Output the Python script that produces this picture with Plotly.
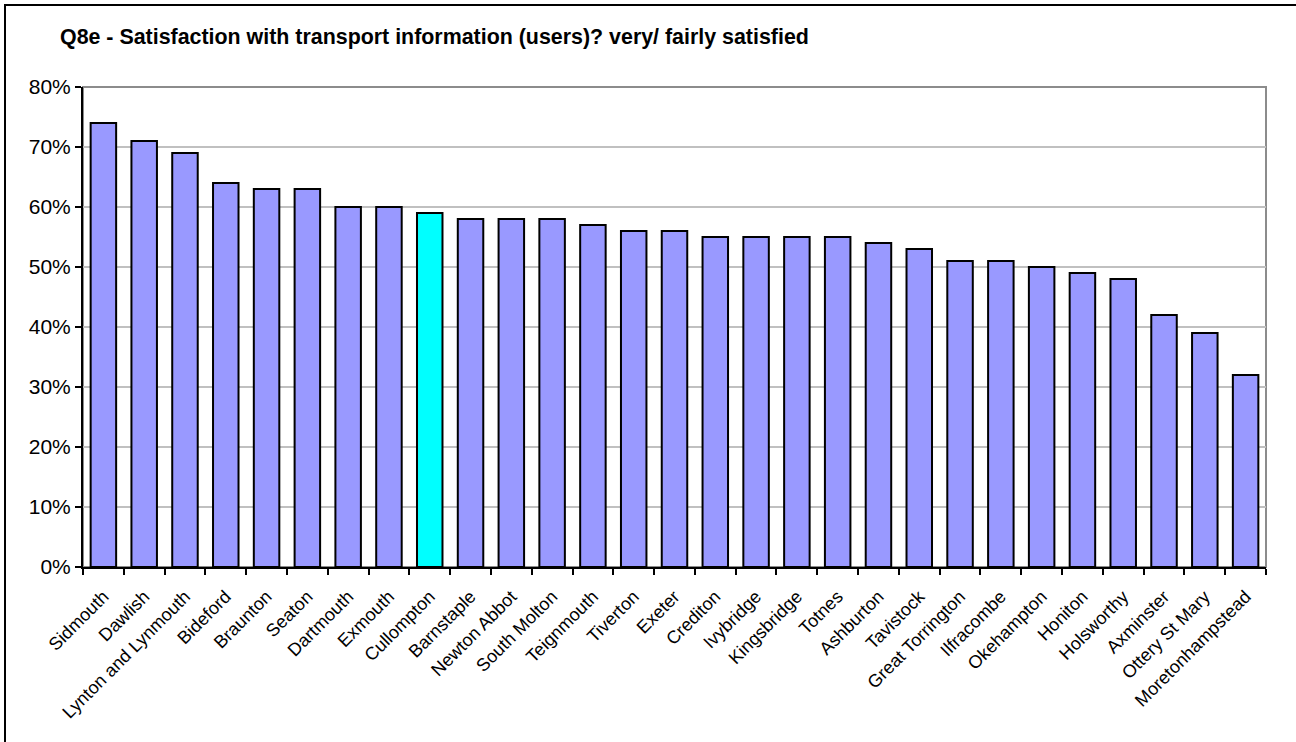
import plotly.graph_objects as go

towns = [
    "Sidmouth", "Dawlish", "Lynton and Lynmouth", "Bideford", "Braunton",
    "Seaton", "Dartmouth", "Exmouth", "Cullompton", "Barnstaple",
    "Newton Abbot", "South Molton", "Teignmouth", "Tiverton", "Exeter",
    "Crediton", "Ivybridge", "Kingsbridge", "Totnes", "Ashburton",
    "Tavistock", "Great Torrington", "Ilfracombe", "Okehampton", "Honiton",
    "Holsworthy", "Axminster", "Ottery St Mary", "Moretonhampstead",
]
satisfied = [
    0.74, 0.71, 0.69, 0.64, 0.63, 0.63, 0.60, 0.60, 0.59, 0.58,
    0.58, 0.58, 0.57, 0.56, 0.56, 0.55, 0.55, 0.55, 0.55, 0.54,
    0.53, 0.51, 0.51, 0.50, 0.49, 0.48, 0.42, 0.39, 0.32,
]
highlight = "Cullompton"

W, H = 1296, 742
L, R, T, B = 83, 30, 87, 175
pw, ph = W - L - R, H - T - B

colors = ["#00FFFF" if t == highlight else "#9999FF" for t in towns]

fig = go.Figure(go.Bar(
    x=towns,
    y=satisfied,
    marker=dict(color=colors, line=dict(color="black", width=2)),
))

fig.update_layout(
    width=W,
    height=H,
    margin=dict(l=L, r=R, t=T, b=B),
    plot_bgcolor="white",
    paper_bgcolor="white",
    font=dict(family="Liberation Sans, Arial, sans-serif", color="black"),
    bargap=0.375,
    showlegend=False,
    title=dict(
        text="<b>Q8e - Satisfaction with transport information (users)? very/ fairly satisfied</b>",
        x=60 / W, xref="container", xanchor="left",
        y=1 - 37 / H, yref="container", yanchor="middle",
        font=dict(size=21.4),
    ),
    xaxis=dict(
        showline=True, linecolor="black", linewidth=2,
        ticks="outside", tickson="boundaries", ticklen=6, tickwidth=2, tickcolor="black",
        tickangle=-45, tickfont=dict(size=18), ticklabelstandoff=10,
        showgrid=False,
    ),
    yaxis=dict(
        range=[0, 0.8], dtick=0.1, tickformat=".0%",
        showline=True, linecolor="black", linewidth=2,
        ticks="outside", ticklen=6, tickwidth=2, tickcolor="black",
        tickfont=dict(size=21),
        showgrid=True, gridcolor="#c0c0c0", gridwidth=2,
        zeroline=False,
    ),
    shapes=[
        # plot-area frame (top and right edges, grey)
        dict(type="rect", xref="paper", yref="paper", x0=0, x1=1, y0=0, y1=1,
             line=dict(color="#8c8c8c", width=2), layer="below"),
        # outer chart border
        dict(type="rect", xref="paper", yref="paper",
             x0=-(L - 5) / pw, x1=(W - L + 20) / pw,
             y0=-(B + 20) / ph, y1=1 + (T - 5) / ph,
             line=dict(color="black", width=2)),
    ],
)

fig.write_html(
    "out.html",
    config={"displayModeBar": False},
    post_script="document.body.style.margin='0';document.body.style.overflow='hidden';",
)
